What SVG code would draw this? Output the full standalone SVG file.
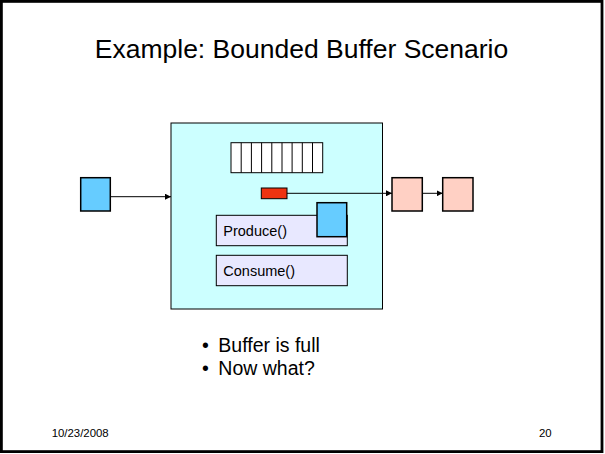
<svg xmlns="http://www.w3.org/2000/svg" width="605" height="454" viewBox="0 0 605 454">
<style>
text{font-family:"Liberation Sans",Arial,sans-serif;fill:#000}
.box{stroke:#000;stroke-width:1.5}
.thin{stroke:#000;stroke-width:1}
.con{stroke:#000;stroke-width:1;fill:none}
</style>
<defs>
<marker id="ah" viewBox="0 0 10 10" refX="10" refY="5" markerWidth="6" markerHeight="6" markerUnits="userSpaceOnUse" orient="auto">
<path d="M0,0 L10,5 L0,10 z" fill="#000"/>
</marker>
</defs>
<rect x="0" y="0" width="605" height="454" fill="#fff"/>
<rect x="1.4" y="1.4" width="600.6" height="450.2" fill="none" stroke="#000" stroke-width="2.8"/>
<text x="301.5" y="58" font-size="26.5" text-anchor="middle">Example: Bounded Buffer Scenario</text>
<g id="monitor">
<rect x="171" y="123" width="211.5" height="186" fill="#ccffff" class="thin"/>
</g>
<g id="buffer">
<rect x="231" y="142.7" width="91.7" height="30" fill="#fff" class="thin"/>
<path d="M241.2,142.7V172.7M251.4,142.7V172.7M261.6,142.7V172.7M271.8,142.7V172.7M282,142.7V172.7M292.1,142.7V172.7M302.3,142.7V172.7M312.5,142.7V172.7" class="thin" fill="none"/>
</g>
<g id="item">
<rect x="261.3" y="188" width="25.7" height="10.7" fill="#ee3311" class="thin"/>
</g>
<g id="produce">
<rect x="216.3" y="215.3" width="131" height="30.4" fill="#e8e8ff" class="thin"/>
<text x="223.3" y="236" font-size="14.5">Produce()</text>
</g>
<g id="consume">
<rect x="216.3" y="255.3" width="131" height="30.4" fill="#e8e8ff" class="thin"/>
<text x="223.3" y="276" font-size="14.5">Consume()</text>
</g>
<g id="producer-in">
<rect x="317" y="202.7" width="29.7" height="34" fill="#66ccff" class="box"/>
</g>
<g id="producer-wait">
<rect x="80.7" y="177.7" width="29.6" height="33.3" fill="#66ccff" class="box"/>
</g>
<g id="consumer1">
<rect x="392" y="177.7" width="30.3" height="33.3" fill="#ffd0c4" class="box"/>
</g>
<g id="consumer2">
<rect x="442.7" y="177.7" width="30.3" height="33.3" fill="#ffd0c4" class="box"/>
</g>
<g id="connectors">
<line x1="110.3" y1="196.7" x2="171" y2="196.7" class="con" marker-end="url(#ah)"/>
<line x1="287" y1="193.3" x2="392" y2="193.3" class="con" marker-end="url(#ah)"/>
<line x1="422.3" y1="193.3" x2="442.7" y2="193.3" class="con" marker-end="url(#ah)"/>
</g>
<g id="bullets" font-size="19.5">
<text x="202" y="351.7">•</text>
<text x="218.3" y="351.7">Buffer is full</text>
<text x="202" y="375">•</text>
<text x="218.3" y="375">Now what?</text>
</g>
<text x="51.7" y="437" font-size="11.4">10/23/2008</text>
<text x="539" y="437" font-size="11.4">20</text>
</svg>
